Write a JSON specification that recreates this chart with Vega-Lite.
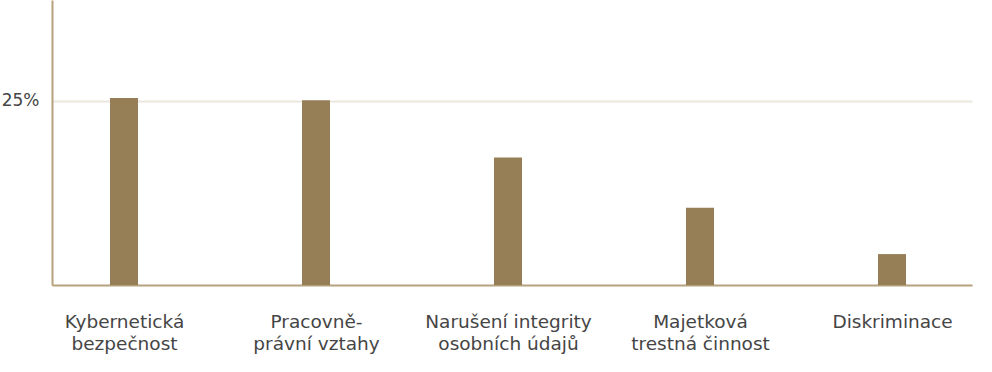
{
  "$schema": "https://vega.github.io/schema/vega-lite/v6.json",
  "width": 920,
  "height": 285,
  "autosize": {"type": "none"},
  "padding": {"left": 52, "top": 0, "right": 20, "bottom": 87},
  "data": {
    "values": [
      {"kategorie": "Kybernetická|bezpečnost", "podil": 25.4},
      {"kategorie": "Pracovně-|právní vztahy", "podil": 25.1},
      {"kategorie": "Narušení integrity|osobních údajů", "podil": 17.3},
      {"kategorie": "Majetková|trestná činnost", "podil": 10.5},
      {"kategorie": "Diskriminace", "podil": 4.2}
    ]
  },
  "mark": {"type": "bar", "width": 28, "color": "#967f57"},
  "encoding": {
    "x": {
      "field": "kategorie",
      "type": "nominal",
      "sort": null,
      "scale": {"type": "point", "padding": 0.3958, "align": 0.4737},
      "axis": {
        "title": null,
        "labelAngle": 0,
        "labelExpr": "split(datum.value, '|')",
        "labelFont": "DejaVu Sans",
        "labelFontSize": 18.5,
        "labelColor": "#454545",
        "labelLineHeight": 22,
        "labelBaseline": "top",
        "labelPadding": 27,
        "ticks": false,
        "grid": false,
        "domain": true,
        "domainColor": "#b5a17c",
        "domainWidth": 2
      }
    },
    "y": {
      "field": "podil",
      "type": "quantitative",
      "scale": {"domain": [0, 38.7], "nice": false},
      "axis": {
        "title": null,
        "values": [25],
        "labelExpr": "datum.value + '%'",
        "labelFont": "DejaVu Sans",
        "labelFontSize": 17,
        "labelColor": "#454545",
        "labelPadding": 13,
        "ticks": false,
        "grid": true,
        "gridColor": "#ece7de",
        "gridWidth": 2,
        "domain": true,
        "domainColor": "#b5a17c",
        "domainWidth": 2
      }
    }
  },
  "config": {"view": {"stroke": null}}
}
